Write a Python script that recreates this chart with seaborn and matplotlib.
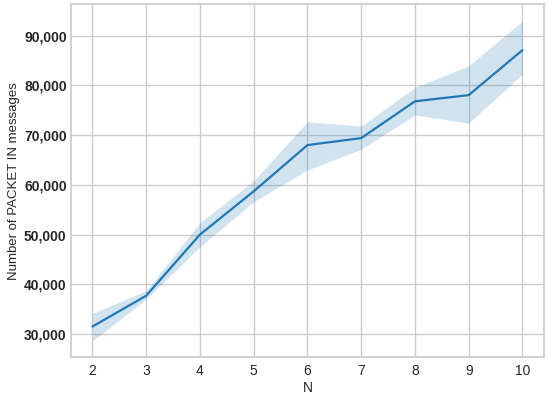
import matplotlib
matplotlib.use("Agg")
import matplotlib.pyplot as plt
import matplotlib.ticker as mticker
import seaborn as sns
import pandas as pd

N = [2, 3, 4, 5, 6, 7, 8, 9, 10]
mean_msgs = [31500, 37700, 50000, 58700, 68000, 69400, 76800, 78050, 87100]
ci_low = [28600, 37000, 47550, 56600, 63000, 67150, 74050, 72400, 82300]
ci_high = [34150, 38700, 52400, 60800, 72700, 71800, 79600, 83950, 92950]

sns.set_theme(style="whitegrid")
plt.rcParams['font.family'] = ['Liberation Sans', 'DejaVu Sans']

df = pd.DataFrame({"N": N, "msgs": mean_msgs, "lo": ci_low, "hi": ci_high})

fig, ax = plt.subplots(figsize=(5.5, 3.98), dpi=100)
fig.subplots_adjust(left=0.129, right=0.989, top=0.989, bottom=0.103)

sns.lineplot(data=df, x="N", y="msgs", ax=ax, errorbar=None, color="#1f77b4", linewidth=1.6)
ax.fill_between(df["N"], df["lo"], df["hi"], color="#1f77b4", alpha=0.2, linewidth=0)

ax.set_xlim(1.6, 10.4)
ax.set_ylim(25370, 96300)
ax.set_xticks(N)
ax.set_yticks([30000, 40000, 50000, 60000, 70000, 80000, 90000])
ax.yaxis.set_major_formatter(mticker.FuncFormatter(lambda v, p: f"{int(v):,}"))
ax.tick_params(axis="both", labelsize=10, length=0)
ax.tick_params(axis="x", pad=5.3)
ax.tick_params(axis="y", pad=3.1)
for lbl in ax.get_yticklabels():
    lbl.set_fontweight("bold")
ax.set_xlabel("N", fontsize=10)
ax.set_ylabel("Number of PACKET IN messages", fontsize=9.5)
ax.xaxis.set_label_coords(0.5, -0.069)
ax.yaxis.set_label_coords(-0.108, 0.5)

fig.savefig("out.png", dpi=100)
